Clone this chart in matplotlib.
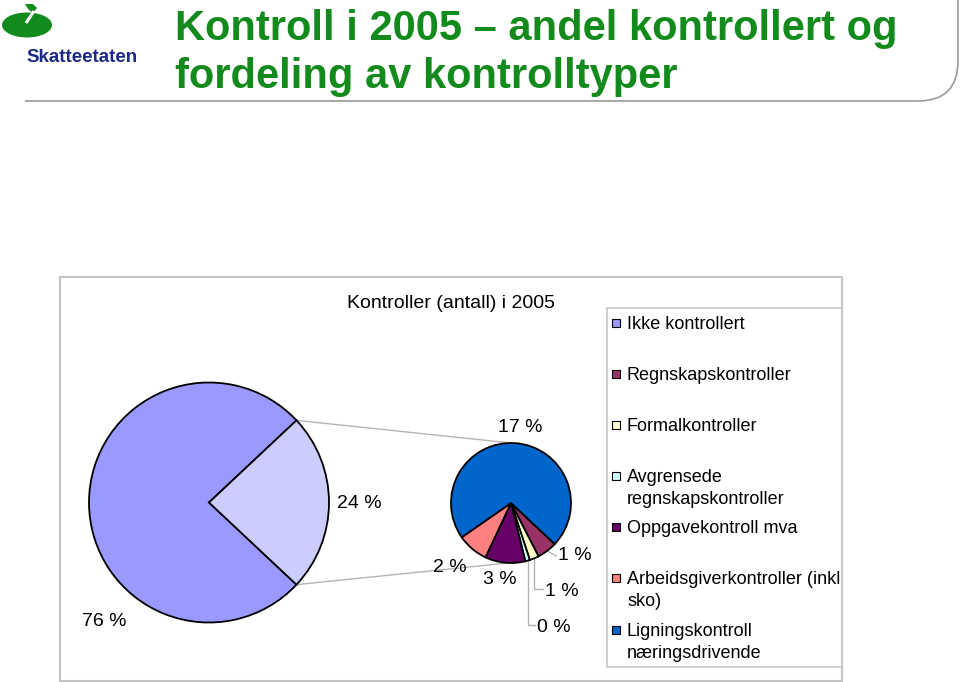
import numpy as np
import matplotlib
matplotlib.use("Agg")
import matplotlib.pyplot as plt
from matplotlib.patches import Rectangle, Ellipse, Polygon, PathPatch
from matplotlib.path import Path

# ---------------- data ----------------
title_lines = ["Kontroll i 2005 \u2013 andel kontrollert og", "fordeling av kontrolltyper"]
brand = "Skatteetaten"
chart_title = "Kontroller (antall) i 2005"

main_labels = ["Ikke kontrollert", "Kontrollert"]
main_values = [76.0, 24.0]
main_colors = ["#9999FF", "#CCCCFF"]

sub_labels = ["Regnskapskontroller", "Formalkontroller",
              "Avgrensede\nregnskapskontroller", "Oppgavekontroll mva",
              "Arbeidsgiverkontroller (inkl\nsko)", "Ligningskontroll\nn\u00e6ringsdrivende"]
sub_values = [1.3, 0.6, 0.3, 2.6, 2.0, 17.2]
sub_colors = ["#993366", "#FFFFCC", "#CCFFFF", "#660066", "#FF8080", "#0066CC"]

plt.rcParams["font.family"] = ["Liberation Sans", "DejaVu Sans"]

W, H = 960, 682
fig = plt.figure(figsize=(9.6, 6.82), dpi=100)
ax = fig.add_axes([0, 0, 1, 1])


def Y(y):
    return H - y


def pct(v):
    return f"{int(np.floor(v + 0.5))} %"


GREEN = "#138A1C"
NAVY = "#1B2A86"
GRAY = "#B4B4B4"

# ---------------- header ----------------
ax.add_patch(Ellipse((27, Y(25)), 50, 25, facecolor=GREEN, edgecolor="none", zorder=3))
ax.add_patch(Polygon([(25, Y(4)), (33, Y(4)), (37, Y(8)), (33, Y(13)), (28, Y(9))],
                     closed=True, facecolor=GREEN, edgecolor="none", zorder=3))
ax.plot([26, 34], [Y(23), Y(11)], color="white", lw=2.2, solid_capstyle="butt", zorder=4)
ax.text(26, Y(57), brand, fontsize=13.5, fontweight="bold", color=NAVY,
        ha="left", va="center", zorder=3)
ax.text(175, Y(40), title_lines[0], fontsize=30, fontweight="bold", color=GREEN,
        ha="left", va="baseline")
ax.text(175, Y(88), title_lines[1], fontsize=30, fontweight="bold", color=GREEN,
        ha="left", va="baseline")

# separator line with rounded corner
r = 40
verts = [(25, Y(101)), (958 - r, Y(101)), (958, Y(101)), (958, Y(101 - r)), (958, Y(0))]
codes = [Path.MOVETO, Path.LINETO, Path.CURVE3, Path.CURVE3, Path.LINETO]
ax.add_patch(PathPatch(Path(verts, codes), facecolor="none", edgecolor="#9A9A9A", lw=1.2))

# ---------------- chart frame ----------------
ax.add_patch(Rectangle((60, Y(681)), 782, 404, facecolor="white", edgecolor="#C4C4C4", lw=1.5, zorder=0))
ax.add_patch(Rectangle((607, Y(667)), 235, 359, facecolor="none", edgecolor="#C8C8C8", lw=1.2, zorder=0.2))
ax.text(451, Y(303), chart_title, fontsize=14, ha="center", va="center", color="black")

# ---------------- pies ----------------
half = main_values[1] / sum(main_values) * 360 / 2
big_c, big_r = (209, Y(502.5)), 120
small_c, small_r = (511, Y(503)), 60
wp = dict(edgecolor="black", linewidth=1.3)

ax.pie(main_values, colors=main_colors, startangle=half, counterclock=True,
       center=big_c, radius=big_r, wedgeprops=wp, frame=True)
ax.pie(sub_values, colors=sub_colors, startangle=-half, counterclock=False,
       center=small_c, radius=small_r, wedgeprops=wp, frame=True)

# connector lines
a = np.deg2rad(half)
ex = big_c[0] + big_r * np.cos(a)
ax.plot([ex, small_c[0]], [big_c[1] + big_r * np.sin(a), small_c[1] + small_r],
        color=GRAY, lw=1.0, zorder=0.5)
ax.plot([ex, small_c[0] - 3], [big_c[1] - big_r * np.sin(a), small_c[1] - small_r],
        color=GRAY, lw=1.0, zorder=0.5)

# labels on main pie
main_lab_pos = [(104, 621), (359, 504)]
for v, (x, y) in zip(main_values, main_lab_pos):
    ax.text(x, Y(y), pct(v), fontsize=14, ha="center", va="center")

# labels on secondary pie
fr = np.array(sub_values) / sum(sub_values) * 360
starts = -half - np.concatenate([[0], np.cumsum(fr)[:-1]])
mids = starts - fr / 2
sub_lab_pos = [(558, 556, "left"), (545, 592, "left"), (537, 628, "left"),
               (500, 580, "center"), (450, 567, "center"), (520, 428, "center")]
for i, (v, (x, y, ha)) in enumerate(zip(sub_values, sub_lab_pos)):
    ax.text(x, Y(y), pct(v), fontsize=14, ha=ha, va="center")

# leader lines
for i in range(3):
    m = np.deg2rad(mids[i])
    px = small_c[0] + small_r * np.cos(m)
    py = small_c[1] + small_r * np.sin(m)
    lx, ly, _ = sub_lab_pos[i]
    if i == 0:
        ax.plot([px, lx - 2], [py, Y(ly)], color=GRAY, lw=1.0, zorder=0.5)
    else:
        ax.plot([px, px, lx - 2], [py, Y(ly - 3), Y(ly - 3)], color=GRAY, lw=1.0, zorder=0.5)

# ---------------- legend ----------------
leg_labels = [main_labels[0]] + sub_labels
leg_colors = [main_colors[0]] + sub_colors
leg_y = [323, 374, 425, 476, 527, 578, 630]
sq = 8
for lab, col, yc in zip(leg_labels, leg_colors, leg_y):
    ax.add_patch(Rectangle((612, Y(yc) - sq / 2), sq, sq, facecolor=col,
                           edgecolor="black", lw=0.8))
    for k, line in enumerate(lab.split("\n")):
        ax.text(627, Y(yc + 6 + 22 * k), line, fontsize=13, ha="left", va="baseline")

ax.set_xlim(0, W)
ax.set_ylim(0, H)
ax.set_aspect("auto")
ax.axis("off")

fig.savefig("out.png", dpi=100)
